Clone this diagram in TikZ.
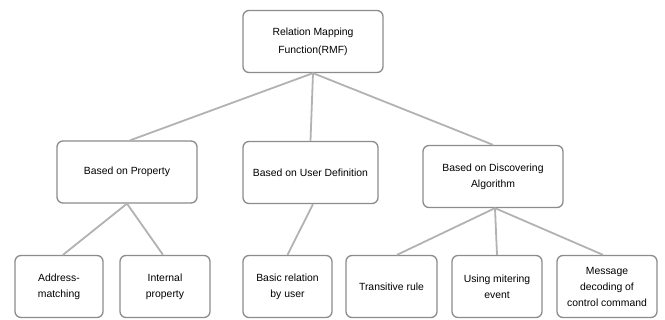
\documentclass[tikz,border=0pt]{standalone}
\usepackage{fontspec}
\setmainfont{Liberation Sans}
\begin{document}
\begin{tikzpicture}[x=1pt,y=1pt,
  box/.style={draw=black!45, line width=1.3pt, rounded corners=6pt, fill=white,
    align=center, font=\fontsize{10.4}{16}\selectfont, inner sep=0pt,
    minimum height=62pt},
  link/.style={draw=black!30, line width=1.8pt}]
  \useasboundingbox (0,0) rectangle (665,320);

  % Root
  \node[box, minimum width=140pt, font=\fontsize{10.4}{18}\selectfont] (rmf) at (313,278.5) {Relation Mapping\\Function(RMF)};

  % Second level
  \node[box, minimum width=140pt] (prop) at (127,148) {Based on Property};
  \node[box, minimum width=135pt] (user) at (310.5,147.5) {Based on User Definition};
  \node[box, minimum width=140pt] (disc) at (493,143.5) {Based on Discovering\\Algorithm};

  % Leaves
  \node[box, minimum width=88pt] (addr) at (59,33.5) {Address-\\matching};
  \node[box, minimum width=90pt] (intern) at (165,33.5) {Internal\\property};
  \node[box, minimum width=89pt] (basic) at (287.5,33.5) {Basic relation\\by user};
  \node[box, minimum width=91pt] (trans) at (391.5,33.5) {Transitive rule};
  \node[box, minimum width=90pt] (miter) at (497,33.5) {Using mitering\\event};
  \node[box, minimum width=100pt] (msg) at (607,33.5) {Message\\decoding of\\control command};

  % Connectors
  \draw[link] (rmf.south) -- ([xshift=3pt]prop.north);
  \draw[link] (rmf.south) -- (user.north);
  \draw[link] (rmf.south) -- (disc.north);
  \draw[link] (prop.south) -- ([xshift=4pt]addr.north);
  \draw[link] (prop.south) -- ([xshift=-2pt]intern.north);
  \draw[link] ([xshift=2.5pt]user.south) -- (basic.north);
  \draw[link] ([xshift=2pt]disc.south) -- ([xshift=5.5pt]trans.north);
  \draw[link] ([xshift=2pt]disc.south) -- (miter.north);
  \draw[link] ([xshift=2pt]disc.south) -- ([xshift=-4pt]msg.north);
\end{tikzpicture}
\end{document}
